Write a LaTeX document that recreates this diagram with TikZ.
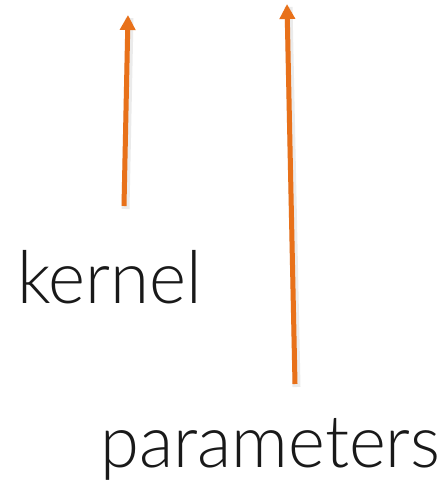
\documentclass[tikz,border=0pt]{standalone}
\usepackage{fontspec}
\newfontfamily\thinfont{Lato Light}
\usetikzlibrary{arrows.meta}
\definecolor{accent}{HTML}{E8711A}
\tikzset{
  x=1pt, y=-1pt,
  uparrow/.style={draw=accent, line width=5pt,
    -{Triangle[width=15pt,length=15pt]}},
  shade line/.style={draw=black, opacity=0.08, line width=8pt},
  word/.style={anchor=base west, inner sep=0pt, text=black!90}
}
\newcommand{\labeltext}[2]{%
  \resizebox{#1}{\height}{\fontsize{73}{73}\thinfont #2}}
\begin{document}
\begin{tikzpicture}
  \useasboundingbox (0,0) rectangle (446,481);
  % arrow end points
  \coordinate (k0) at (124,206);
  \coordinate (k1) at (128,15);
  \coordinate (p0) at (295,384);
  \coordinate (p1) at (287,4);
  % soft shadows under the arrows
  \draw[shade line] ([shift={(1.5,3)}]k0) -- ([shift={(1.5,3)}]k1);
  \draw[shade line] ([shift={(1.5,3)}]p0) -- ([shift={(1.5,3)}]p1);
  % arrows
  \draw[uparrow] (k0) -- (k1);
  \draw[uparrow] (p0) -- (p1);
  % labels
  \node[word] (kernel) at (17,303) {\labeltext{185pt}{kernel}};
  \node[word] (params) at (100,467) {\labeltext{340pt}{parameters}};
\end{tikzpicture}
\end{document}
